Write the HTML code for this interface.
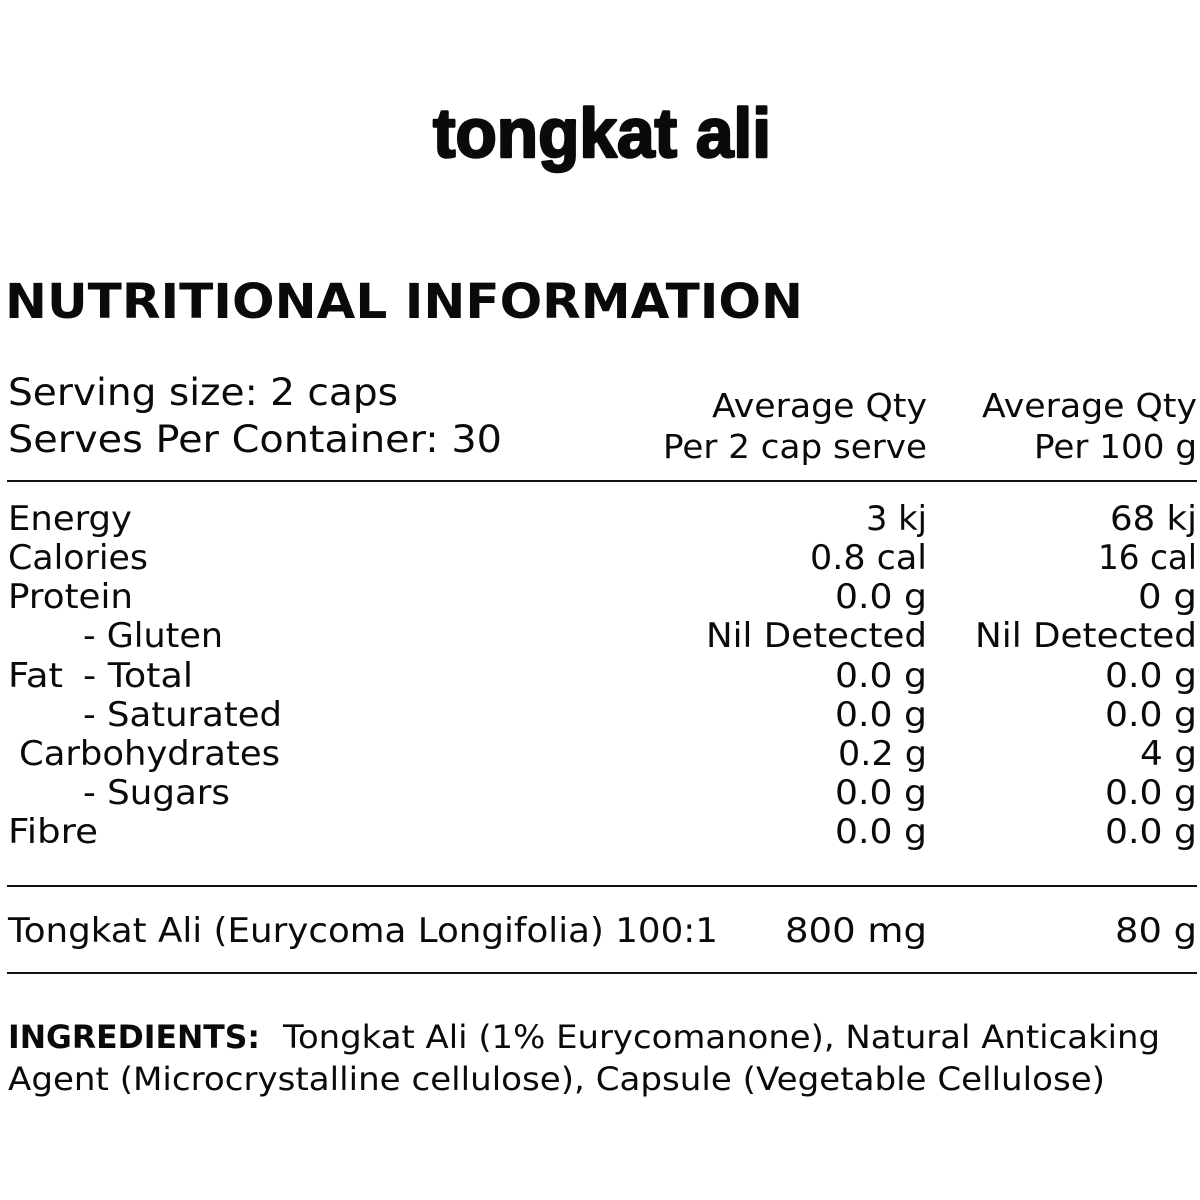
<!DOCTYPE html>
<html>
<head>
<meta charset="utf-8">
<style>
html,body{margin:0;padding:0;background:#fff;}
svg{display:block;}
text{fill:#0a0a0a;}
.b{font-family:"DejaVu Sans","Liberation Sans",sans-serif;font-size:34px;}
.h{font-family:"DejaVu Sans","Liberation Sans",sans-serif;font-size:37px;}
.q{font-family:"DejaVu Sans","Liberation Sans",sans-serif;font-size:33px;}
.i{font-family:"DejaVu Sans","Liberation Sans",sans-serif;font-size:32px;}
.ib{font-family:"DejaVu Sans","Liberation Sans",sans-serif;font-size:32px;font-weight:bold;}
.hd{font-family:"DejaVu Sans","Liberation Sans",sans-serif;font-size:48px;font-weight:bold;}
.t{font-family:"Liberation Sans",sans-serif;font-size:70px;font-weight:bold;stroke:#0a0a0a;stroke-width:2.5px;stroke-linejoin:round;}
</style>
</head>
<body>
<svg width="1200" height="1200" viewBox="0 0 1200 1200" xmlns="http://www.w3.org/2000/svg">
<rect width="1200" height="1200" fill="#fff"/>

<text class="t" x="433" y="157" textLength="338" lengthAdjust="spacingAndGlyphs">tongkat ali</text>

<text class="hd" x="5" y="318" textLength="798" lengthAdjust="spacingAndGlyphs">NUTRITIONAL INFORMATION</text>

<text class="h" x="8" y="405" textLength="390" lengthAdjust="spacingAndGlyphs">Serving size: 2 caps</text>
<text class="h" x="8" y="452" textLength="494" lengthAdjust="spacingAndGlyphs">Serves Per Container: 30</text>

<text class="q" x="712" y="417" textLength="215" lengthAdjust="spacingAndGlyphs">Average Qty</text>
<text class="q" x="663" y="458" textLength="264" lengthAdjust="spacingAndGlyphs">Per 2 cap serve</text>
<text class="q" x="982" y="417" textLength="215" lengthAdjust="spacingAndGlyphs">Average Qty</text>
<text class="q" x="1034" y="458" textLength="163" lengthAdjust="spacingAndGlyphs">Per 100 g</text>

<line x1="7" y1="481" x2="1197" y2="481" stroke="#111" stroke-width="2"/>

<!-- labels -->
<text class="b" x="8" y="530" textLength="124" lengthAdjust="spacingAndGlyphs">Energy</text>
<text class="b" x="8" y="569" textLength="140" lengthAdjust="spacingAndGlyphs">Calories</text>
<text class="b" x="8" y="608" textLength="125" lengthAdjust="spacingAndGlyphs">Protein</text>
<text class="b" x="83" y="647" textLength="140" lengthAdjust="spacingAndGlyphs">- Gluten</text>
<text class="b" x="8" y="687" textLength="55" lengthAdjust="spacingAndGlyphs">Fat</text>
<text class="b" x="83" y="687" textLength="110" lengthAdjust="spacingAndGlyphs">- Total</text>
<text class="b" x="83" y="726" textLength="199" lengthAdjust="spacingAndGlyphs">- Saturated</text>
<text class="b" x="19" y="765" textLength="261" lengthAdjust="spacingAndGlyphs">Carbohydrates</text>
<text class="b" x="83" y="804" textLength="147" lengthAdjust="spacingAndGlyphs">- Sugars</text>
<text class="b" x="8" y="843" textLength="90" lengthAdjust="spacingAndGlyphs">Fibre</text>

<!-- column 1 -->
<text class="b" x="866" y="530" textLength="61" lengthAdjust="spacingAndGlyphs">3 kj</text>
<text class="b" x="810" y="569" textLength="117" lengthAdjust="spacingAndGlyphs">0.8 cal</text>
<text class="b" x="835" y="608" textLength="92" lengthAdjust="spacingAndGlyphs">0.0 g</text>
<text class="b" x="706" y="647" textLength="221" lengthAdjust="spacingAndGlyphs">Nil Detected</text>
<text class="b" x="835" y="687" textLength="92" lengthAdjust="spacingAndGlyphs">0.0 g</text>
<text class="b" x="835" y="726" textLength="92" lengthAdjust="spacingAndGlyphs">0.0 g</text>
<text class="b" x="838" y="765" textLength="89" lengthAdjust="spacingAndGlyphs">0.2 g</text>
<text class="b" x="835" y="804" textLength="92" lengthAdjust="spacingAndGlyphs">0.0 g</text>
<text class="b" x="835" y="843" textLength="92" lengthAdjust="spacingAndGlyphs">0.0 g</text>

<!-- column 2 -->
<text class="b" x="1110" y="530" textLength="87" lengthAdjust="spacingAndGlyphs">68 kj</text>
<text class="b" x="1098" y="569" textLength="99" lengthAdjust="spacingAndGlyphs">16 cal</text>
<text class="b" x="1138" y="608" textLength="59" lengthAdjust="spacingAndGlyphs">0 g</text>
<text class="b" x="975" y="647" textLength="222" lengthAdjust="spacingAndGlyphs">Nil Detected</text>
<text class="b" x="1105" y="687" textLength="92" lengthAdjust="spacingAndGlyphs">0.0 g</text>
<text class="b" x="1105" y="726" textLength="92" lengthAdjust="spacingAndGlyphs">0.0 g</text>
<text class="b" x="1140" y="765" textLength="57" lengthAdjust="spacingAndGlyphs">4 g</text>
<text class="b" x="1105" y="804" textLength="92" lengthAdjust="spacingAndGlyphs">0.0 g</text>
<text class="b" x="1105" y="843" textLength="92" lengthAdjust="spacingAndGlyphs">0.0 g</text>

<line x1="7" y1="886" x2="1197" y2="886" stroke="#111" stroke-width="2"/>

<text class="b" x="8" y="942" textLength="710" lengthAdjust="spacingAndGlyphs">Tongkat Ali (Eurycoma Longifolia) 100:1</text>
<text class="b" x="785" y="942" textLength="142" lengthAdjust="spacingAndGlyphs">800 mg</text>
<text class="b" x="1115" y="942" textLength="82" lengthAdjust="spacingAndGlyphs">80 g</text>

<line x1="7" y1="973" x2="1197" y2="973" stroke="#111" stroke-width="2"/>

<text class="ib" x="8" y="1048" textLength="252" lengthAdjust="spacingAndGlyphs">INGREDIENTS:</text>
<text class="i" x="283" y="1048" textLength="877" lengthAdjust="spacingAndGlyphs">Tongkat Ali (1% Eurycomanone), Natural Anticaking</text>
<text class="i" x="8" y="1090" textLength="1097" lengthAdjust="spacingAndGlyphs">Agent (Microcrystalline cellulose), Capsule (Vegetable Cellulose)</text>
</svg>
</body>
</html>
